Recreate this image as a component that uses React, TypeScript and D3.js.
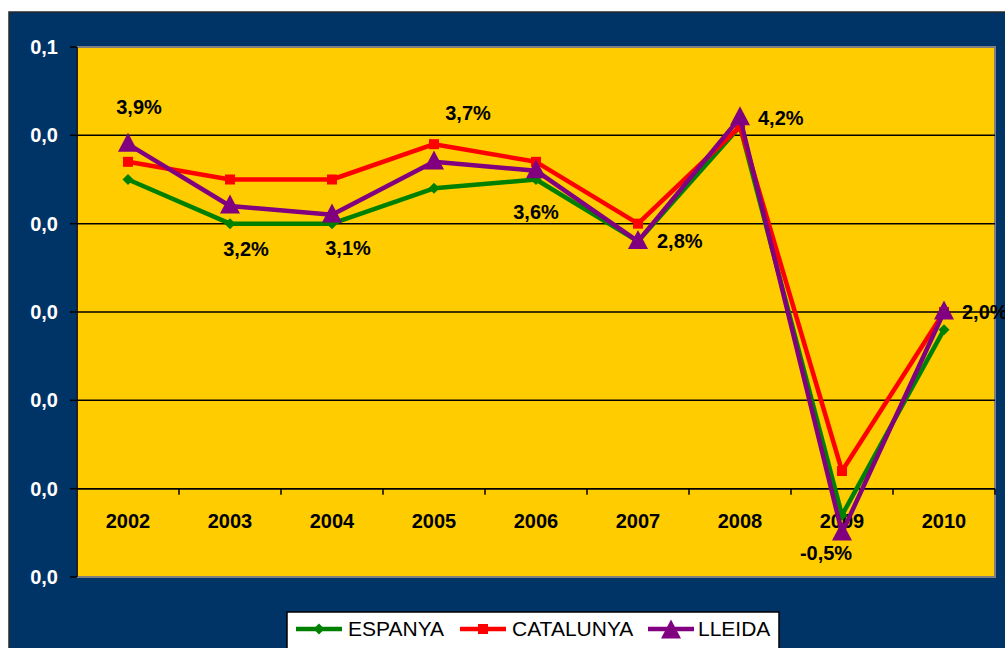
import React from "react";
import * as d3 from "d3";

const years = ["2002", "2003", "2004", "2005", "2006", "2007", "2008", "2009", "2010"];
const espanya = [0.035, 0.030, 0.030, 0.034, 0.035, 0.028, 0.041, -0.003, 0.018];
const catalunya = [0.037, 0.035, 0.035, 0.039, 0.037, 0.030, 0.041, 0.002, 0.020];
const lleida = [0.039, 0.032, 0.031, 0.037, 0.036, 0.028, 0.042, -0.005, 0.020];
const yTickValues = [-0.01, 0, 0.01, 0.02, 0.03, 0.04, 0.05];
const yTickLabels = ["0,0", "0,0", "0,0", "0,0", "0,0", "0,0", "0,1"];
const seriesNames = ["ESPANYA", "CATALUNYA", "LLEIDA"];

// label placement relative to each LLEIDA point (layout only)
const labelOffsets: [number, number, string][] = [
  [11, -37, "middle"],
  [16, 43, "middle"],
  [16, 33, "middle"],
  [34, -49, "middle"],
  [0, 41, "middle"],
  [19, 0, "start"],
  [18, 0, "start"],
  [-16, 20, "middle"],
  [18, 0, "start"],
];

const locale = d3.formatLocale({ decimal: ",", thousands: ".", grouping: [3], currency: ["", "€"], minus: "-" });
const pct = locale.format(".1%");

export default function App() {
  const W = 1005, H = 648;
  const left = 77, right = 995, top = 47, bottom = 577;
  const x = d3.scaleBand<string>().domain(years).range([left, right]);
  const y = d3.scaleLinear().domain([-0.01, 0.05]).range([bottom, top]);
  const cx = (yr: string) => (x(yr) as number) + x.bandwidth() / 2;
  const line = d3.line<number>().x((_, i) => cx(years[i])).y((d) => y(d));
  const font = "Arial, 'Liberation Sans', sans-serif";
  const colors = ["#008000", "#FF0000", "#800080"];
  const data = [espanya, catalunya, lleida];

  const marker = (s: number, px: number, py: number, key: string) => {
    if (s === 0) {
      const r = 5.5;
      return <path key={key} d={`M${px},${py - r}L${px + r},${py}L${px},${py + r}L${px - r},${py}Z`} fill={colors[0]} />;
    }
    if (s === 1) {
      return <rect key={key} x={px - 5} y={py - 5} width={10} height={10} fill={colors[1]} />;
    }
    const h = 19, w = 20;
    return <path key={key} d={`M${px},${py - h * 0.6}L${px + w / 2},${py + h * 0.4}L${px - w / 2},${py + h * 0.4}Z`} fill={colors[2]} />;
  };

  const legendItems = [
    { lx: 296, tx: 348 },
    { lx: 460, tx: 512 },
    { lx: 648, tx: 698 },
  ];

  return (
    <svg width={W} height={H} style={{ position: "absolute", left: 0, top: 0, background: "#fff" }} fontFamily={font}>
      <rect x={9} y={12} width={1000} height={640} fill="#003366" stroke="#2a2a2a" strokeWidth={1.5} />
      <rect x={left} y={top} width={right - left} height={bottom - top} fill="#FFCC00" stroke="#808080" strokeWidth={2} />
      {yTickValues.map((v, i) => (
        <g key={"yt" + i}>
          {v !== -0.01 && v !== 0.05 && <line x1={left} x2={right} y1={y(v)} y2={y(v)} stroke="#000" strokeWidth={1.5} />}
          <line x1={70} x2={left} y1={y(v)} y2={y(v)} stroke="#000" strokeWidth={1.5} />
          <text x={58} y={y(v)} dy="0.35em" textAnchor="end" fill="#fff" fontWeight="bold" fontSize={20}>
            {yTickLabels[i]}
          </text>
        </g>
      ))}
      <line x1={left} x2={left} y1={top} y2={bottom} stroke="#000" strokeWidth={1.5} />
      <line x1={left} x2={right} y1={y(0)} y2={y(0)} stroke="#000" strokeWidth={1.5} />
      {years.map((yr, i) => (
        <g key={"xt" + yr}>
          <line x1={(x(yr) as number) + x.bandwidth()} x2={(x(yr) as number) + x.bandwidth()} y1={y(0)} y2={y(0) + 6} stroke="#000" strokeWidth={1.5} />
          <text x={cx(yr)} y={y(0) + 32} dy="0.35em" textAnchor="middle" fontWeight="bold" fontSize={20} fill="#000">
            {yr}
          </text>
        </g>
      ))}
      {data.map((ser, s) => (
        <g key={"s" + s}>
          <path d={line(ser) as string} fill="none" stroke={colors[s]} strokeWidth={4.5} strokeLinejoin="round" />
          {ser.map((v, i) => marker(s, cx(years[i]), y(v), `m${s}-${i}`))}
        </g>
      ))}
      {lleida.map((v, i) => (
        <text
          key={"lb" + i}
          x={cx(years[i]) + labelOffsets[i][0]}
          y={y(v) + labelOffsets[i][1]}
          dy="0.35em"
          textAnchor={labelOffsets[i][2]}
          fontWeight="bold"
          fontSize={20}
          fill="#000"
        >
          {pct(v)}
        </text>
      ))}
      <rect x={287} y={612} width={492} height={50} fill="#fff" stroke="#000" strokeWidth={1.5} />
      {seriesNames.map((n, s) => (
        <g key={"lg" + n}>
          <line x1={legendItems[s].lx} x2={legendItems[s].lx + 46} y1={629} y2={629} stroke={colors[s]} strokeWidth={4.5} />
          {marker(s, legendItems[s].lx + 23, s === 2 ? 631 : 629, "lm" + s)}
          <text x={legendItems[s].tx} y={629} dy="0.35em" fontSize={21} fill="#000">
            {n}
          </text>
        </g>
      ))}
    </svg>
  );
}
